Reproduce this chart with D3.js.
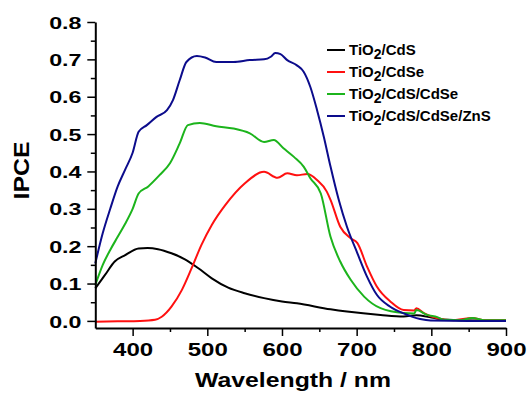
<!DOCTYPE html>
<html>
<head>
<meta charset="utf-8">
<script src="https://cdn.jsdelivr.net/npm/d3@7"></script>
<style>
  body { margin: 0; background: #fff; }
  #chart { width: 528px; height: 395px; }
  text { font-family: "Liberation Sans", Arial, sans-serif; font-weight: bold; fill: #000; }
</style>
</head>
<body>
<div id="chart"></div>
<script>
//Datos (longitud de onda en nm, IPCE)
const wl_cds = [350, 363, 376, 390, 408, 420, 434, 452, 470, 488, 506, 528, 550, 576, 600, 620, 665, 687, 732, 763, 780, 800, 820, 860, 900];
const ipce_cds = [0.087, 0.123, 0.159, 0.176, 0.194, 0.195, 0.192, 0.181, 0.165, 0.141, 0.114, 0.089, 0.074, 0.061, 0.052, 0.047, 0.031, 0.025, 0.016, 0.012, 0.015, 0.009, 0.003, 0.001, 0.001];

const wl_cdse = [350, 380, 410, 430, 439, 452, 466, 479, 492, 506, 524, 550, 576, 594, 607, 620, 634, 647, 660, 665, 678, 692, 701, 714, 727, 745, 763, 777, 780, 790, 808, 830, 855, 870, 900];
const ipce_cdse = [-0.002, -0.001, 0.0, 0.003, 0.011, 0.038, 0.083, 0.141, 0.203, 0.257, 0.31, 0.368, 0.399, 0.383, 0.395, 0.39, 0.393, 0.377, 0.346, 0.324, 0.252, 0.221, 0.208, 0.145, 0.092, 0.052, 0.029, 0.028, 0.034, 0.021, 0.007, 0.002, 0.008, 0.002, 0.002];

const wl_cds_cdse = [350, 360, 370, 380, 390, 400, 408, 421, 436, 450, 463, 474, 490, 512, 535, 557, 576, 589, 602, 616, 629, 638, 652, 665, 678, 692, 710, 732, 763, 777, 780, 794, 808, 817, 840, 855, 870, 900];
const ipce_cds_cdse = [0.096, 0.15, 0.19, 0.225, 0.26, 0.3, 0.341, 0.36, 0.39, 0.422, 0.475, 0.524, 0.530, 0.521, 0.515, 0.502, 0.479, 0.484, 0.462, 0.439, 0.413, 0.382, 0.341, 0.225, 0.159, 0.11, 0.065, 0.034, 0.021, 0.02, 0.029, 0.016, 0.01, 0.003, 0.002, 0.008, 0.002, 0.002];

const wl_zns = [350, 360, 370, 380, 390, 400, 408, 419, 432, 446, 454, 463, 472, 486, 497, 512, 535, 557, 576, 585, 591, 598, 607, 620, 629, 638, 647, 656, 665, 676, 687, 701, 714, 727, 745, 763, 785, 799, 850, 900];
const ipce_zns = [0.154, 0.235, 0.3, 0.36, 0.405, 0.45, 0.506, 0.524, 0.546, 0.564, 0.591, 0.644, 0.693, 0.709, 0.705, 0.693, 0.693, 0.698, 0.700, 0.707, 0.717, 0.714, 0.698, 0.684, 0.667, 0.626, 0.564, 0.493, 0.413, 0.324, 0.252, 0.181, 0.118, 0.07, 0.038, 0.02, 0.005, 0.001, 0.0, 0.0];

const series_names = ['TiO2/CdS', 'TiO2/CdSe', 'TiO2/CdS/CdSe', 'TiO2/CdS/CdSe/ZnS'];
const series_colors = ['#000000', '#ff1010', '#1cb41c', '#0c0c8c'];

const x_ticks = [400, 500, 600, 700, 800, 900];
const x_minor = [450, 550, 650, 750, 850];
const y_ticks = [0.0, 0.1, 0.2, 0.3, 0.4, 0.5, 0.6, 0.7, 0.8];
const y_minor = [0.05, 0.15, 0.25, 0.35, 0.45, 0.55, 0.65, 0.75];

let series = [
    { name: series_names[0], color: series_colors[0], wl: wl_cds, v: ipce_cds },
    { name: series_names[1], color: series_colors[1], wl: wl_cdse, v: ipce_cdse },
    { name: series_names[2], color: series_colors[2], wl: wl_cds_cdse, v: ipce_cds_cdse },
    { name: series_names[3], color: series_colors[3], wl: wl_zns, v: ipce_zns }
];

let svg = d3.select('#chart')
    .append('svg')
        .attr('width', 528)
        .attr('height', 395);

let x = d3.scaleLinear()
    .domain([350, 900])
    .range([95.3, 506]);

let y = d3.scaleLinear()
    .domain([-0.019, 0.8])
    .range([328, 22]);

//Curvas
let line = d3.line()
    .x(function(d) { return x(d[0]); })
    .y(function(d) { return y(d[1]); })
    .curve(d3.curveMonotoneX);

svg.selectAll('.serie')
    .data(series)
    .enter()
    .append('path')
    .attr('class', 'serie')
    .attr('fill', 'none')
    .attr('stroke', function(d) { return d.color; })
    .attr('stroke-width', 2)
    .attr('stroke-linejoin', 'round')
    .attr('d', function(d) { return line(d.wl.map(function(w, i) { return [w, d.v[i]]; })); });

//Ejes
let xAxis = svg.append('g')
    .attr('transform', 'translate(0,328)')
    .call(d3.axisBottom(x).tickValues(x_ticks).tickSize(8).tickSizeOuter(0).tickFormat(d3.format('d')));

svg.append('g')
    .attr('transform', 'translate(0,328)')
    .call(d3.axisBottom(x).tickValues(x_minor).tickSize(4).tickFormat(''))
    .call(function(g) { g.select('.domain').remove(); });

let yAxis = svg.append('g')
    .attr('transform', 'translate(95.3,0)')
    .call(d3.axisLeft(y).tickValues(y_ticks).tickSize(8).tickSizeOuter(0).tickFormat(d3.format('.1f')));

svg.append('g')
    .attr('transform', 'translate(95.3,0)')
    .call(d3.axisLeft(y).tickValues(y_minor).tickSize(4.5).tickFormat(''))
    .call(function(g) { g.select('.domain').remove(); });

svg.selectAll('.domain').attr('stroke', '#000').attr('stroke-width', 2);
svg.selectAll('.tick line').attr('stroke', '#000').attr('stroke-width', 1.5);

xAxis.selectAll('.tick text')
    .attr('font-family', null)
    .attr('font-size', null)
    .style('font-size', '18.5px')
    .attr('y', 28)
    .attr('dy', 0)
    .attr('transform', 'scale(1.3,1)');

yAxis.selectAll('.tick text')
    .attr('font-family', null)
    .attr('font-size', null)
    .style('font-size', '17px')
    .attr('x', -13.8 / 1.37)
    .attr('dy', '0.36em')
    .attr('transform', 'scale(1.37,1)');

//Títulos de los ejes
svg.append('text')
    .attr('x', 293)
    .attr('y', 387)
    .attr('text-anchor', 'middle')
    .style('font-size', '20px')
    .attr('textLength', 196)
    .attr('lengthAdjust', 'spacingAndGlyphs')
    .text('Wavelength / nm');

svg.append('text')
    .attr('transform', 'translate(29,170.5) rotate(-90)')
    .attr('text-anchor', 'middle')
    .style('font-size', '22px')
    .attr('textLength', 58)
    .attr('lengthAdjust', 'spacingAndGlyphs')
    .text('IPCE');

//Leyenda
let legend = svg.selectAll('.leg')
    .data(series)
    .enter()
    .append('g')
    .attr('class', 'leg')
    .attr('transform', function(d, i) { return 'translate(327,' + (50 + i * 22) + ')'; });

legend.append('line')
    .attr('x1', 0)
    .attr('x2', 18)
    .attr('stroke', function(d) { return d.color; })
    .attr('stroke-width', 2);

legend.each(function(d) {
    let t = d3.select(this).append('text')
        .attr('x', 22)
        .attr('y', 5)
        .style('font-size', '15px');
    t.append('tspan').text('TiO');
    t.append('tspan').attr('dy', 4).style('font-size', '14px').text('2');
    t.append('tspan').attr('dy', -4).text(d.name.slice(4));
});
</script>
</body>
</html>
